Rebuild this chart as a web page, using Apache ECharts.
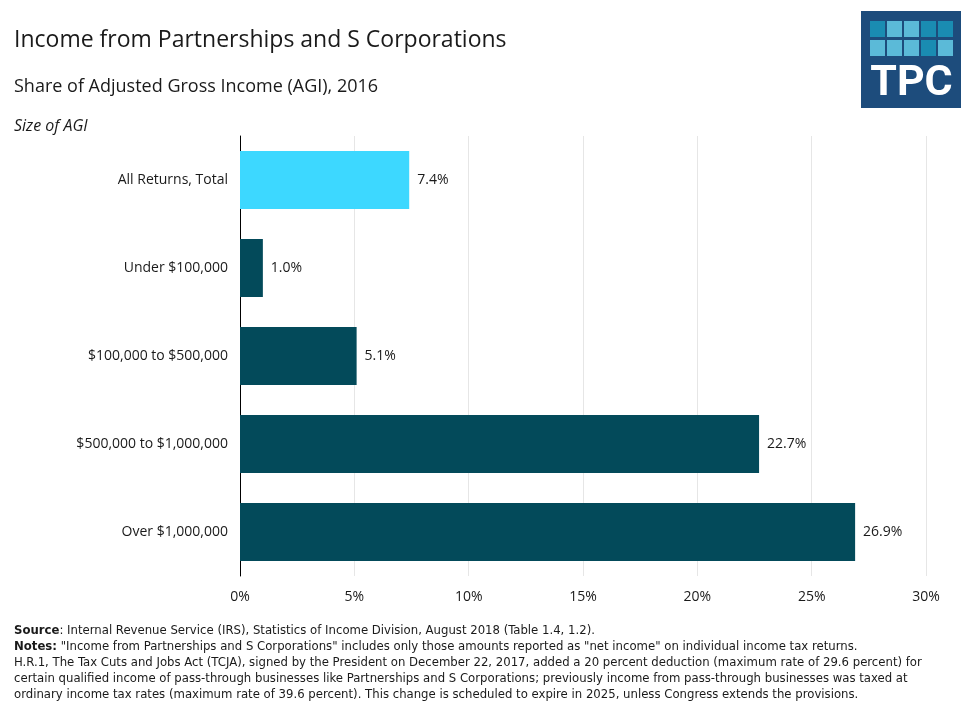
<!DOCTYPE html>
<html>
<head>
<meta charset="utf-8">
<script src="https://cdn.jsdelivr.net/npm/echarts@6/dist/echarts.min.js"></script>
<style>
html,body{margin:0;padding:0;background:#fff;}
#chart{width:968px;height:704px;}
</style>
</head>
<body>
<div id="chart"></div>
<script>
const categories = ["All Returns, Total", "Under $100,000", "$100,000 to $500,000", "$500,000 to $1,000,000", "Over $1,000,000"];
const shares = [7.4, 1.0, 5.1, 22.7, 26.9];
const tickValues = [0, 5, 10, 15, 20, 25, 30];

const titleText = "Income from Partnerships and S Corporations";
const subtitleText = "Share of Adjusted Gross Income (AGI), 2016";
const axisTitleText = "Size of AGI";
const footLines = [
  "{b|Source}: Internal Revenue Service (IRS), Statistics of Income Division, August 2018 (Table 1.4, 1.2).",
  "{b|Notes:} \"Income from Partnerships and S Corporations\" includes only those amounts reported as \"net income\" on individual income tax returns.",
  "H.R.1, The Tax Cuts and Jobs Act (TCJA), signed by the President on December 22, 2017, added a 20 percent deduction (maximum rate of 29.6 percent) for",
  "certain qualified income of pass-through businesses like Partnerships and S Corporations; previously income from pass-through businesses was taxed at",
  "ordinary income tax rates (maximum rate of 39.6 percent). This change is scheduled to expire in 2025, unless Congress extends the provisions."
];

const FONT = "'Open Sans', Lato, sans-serif";
const NARROW = "'Liberation Sans Narrow', 'DejaVu Sans Condensed', sans-serif";
const DARK = "#034a5a";
const LIGHT = "#3dd8ff";

const chart = echarts.init(document.getElementById('chart'), null, {renderer: 'canvas'});

const graphics = [
  {type:'text', left:14, top:29, style:{text:titleText, font:"23px " + FONT, fill:"#1a1a1a"}},
  {type:'text', left:14, top:78, style:{text:subtitleText, font:"18px " + FONT, fill:"#1a1a1a"}},
  {type:'text', left:14, top:118, style:{text:axisTitleText, font:"italic 16px " + FONT, fill:"#1a1a1a"}},
  // logo
  {type:'rect', shape:{x:861, y:11, width:100, height:97}, style:{fill:"#1d4c7c"}}
];
const logoColors = [
  ["#1a8cb2","#5bbad8","#5bbad8","#1a8cb2","#1a8cb2"],
  ["#5bbad8","#5bbad8","#5bbad8","#1a8cb2","#5bbad8"]
];
logoColors.forEach(function(row, r){
  row.forEach(function(c, i){
    graphics.push({type:'rect', shape:{x:870 + i*17, y:21 + r*19, width:15, height:16}, style:{fill:c}});
  });
});
graphics.push({type:'text', x:911.5, y:106, style:{text:"TPC", font:"bold 43px Roboto, 'Open Sans', sans-serif", fill:"#ffffff", textAlign:'center', textVerticalAlign:'bottom'}});

footLines.forEach(function(t, i){
  graphics.push({type:'text', x:14, y:631 + i*16, style:{
    text:t, font:"13px " + NARROW, fill:"#1a1a1a", textVerticalAlign:'middle',
    rich:{b:{fontWeight:'bold', fontFamily:NARROW, fontSize:13, fill:"#1a1a1a"}}
  }});
});

chart.setOption({
  animation:false,
  backgroundColor:'#ffffff',
  grid:{left:240, right:42, top:136, bottom:128, containLabel:false},
  xAxis:{
    type:'value', min:tickValues[0], max:tickValues[tickValues.length-1], interval:5,
    axisLine:{show:false}, axisTick:{show:false},
    splitLine:{show:true, lineStyle:{color:'#e6e6e6', width:1}},
    axisLabel:{formatter:'{value}%', color:'#1a1a1a', fontSize:14, fontFamily:FONT, margin:14}
  },
  yAxis:{
    type:'category', data:categories, inverse:true,
    axisLine:{show:true, lineStyle:{color:'#000', width:1}},
    axisTick:{show:false},
    axisLabel:{color:'#1a1a1a', fontSize:14, fontFamily:FONT, margin:12}
  },
  series:[{
    type:'bar', data:shares, barCategoryGap:'34%',
    itemStyle:{color:function(p){return p.dataIndex === 0 ? LIGHT : DARK;}},
    label:{show:true, position:'right', distance:8, color:'#1a1a1a', fontSize:14, fontFamily:FONT,
      formatter:function(p){return p.value.toFixed(1) + '%';}}
  }],
  graphic:graphics
});
</script>
</body>
</html>
